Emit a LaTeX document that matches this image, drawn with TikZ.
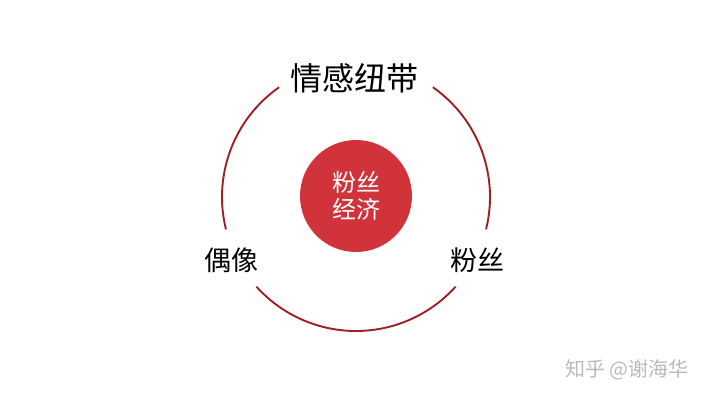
\documentclass[tikz,border=0pt]{standalone}
\usepackage{fontspec}
\setmainfont{Noto Sans CJK SC}
\usepackage{xcolor}
\usepackage{tikz}
\definecolor{ringred}{HTML}{9E1F24}
\definecolor{hubred}{HTML}{D0343A}
\tikzset{ring/.style={draw=ringred, line width=1.9pt},
	hub/.style={circle, fill=hubred, minimum size=112pt, inner sep=0pt, text=white, align=center, font=\fontsize{24}{27}\selectfont},
	tag/.style={text=black, inner sep=0pt}}

\begin{document}
\begin{tikzpicture}[x=1pt, y=1pt]
		\useasboundingbox (0,0) rectangle (712,400);
		\coordinate (o) at (356,203);
		% three arcs of the ring
		\draw[ring] ([shift={(-14:134)}]o) arc[start angle=-14, end angle=55, radius=134];
		\draw[ring] ([shift={(125:134)}]o) arc[start angle=125, end angle=194, radius=134];
		\draw[ring] ([shift={(222:134)}]o) arc[start angle=222, end angle=318, radius=134];
		\node[hub] (hub) at (356,204) {粉丝\\经济};
		\node[tag, font=\fontsize{32}{32}\selectfont] (bond) at (354,322) {情感纽带};
		\node[tag, font=\fontsize{27}{27}\selectfont] (idol) at (231,140) {偶像};
		\node[tag, font=\fontsize{27}{27}\selectfont] (fans) at (477,140) {粉丝};
		\node[tag, text=black!27, font=\fontsize{20}{20}\selectfont] (mark) at (627,30) {知乎 @谢海华};
	\end{tikzpicture}
\end{document}
